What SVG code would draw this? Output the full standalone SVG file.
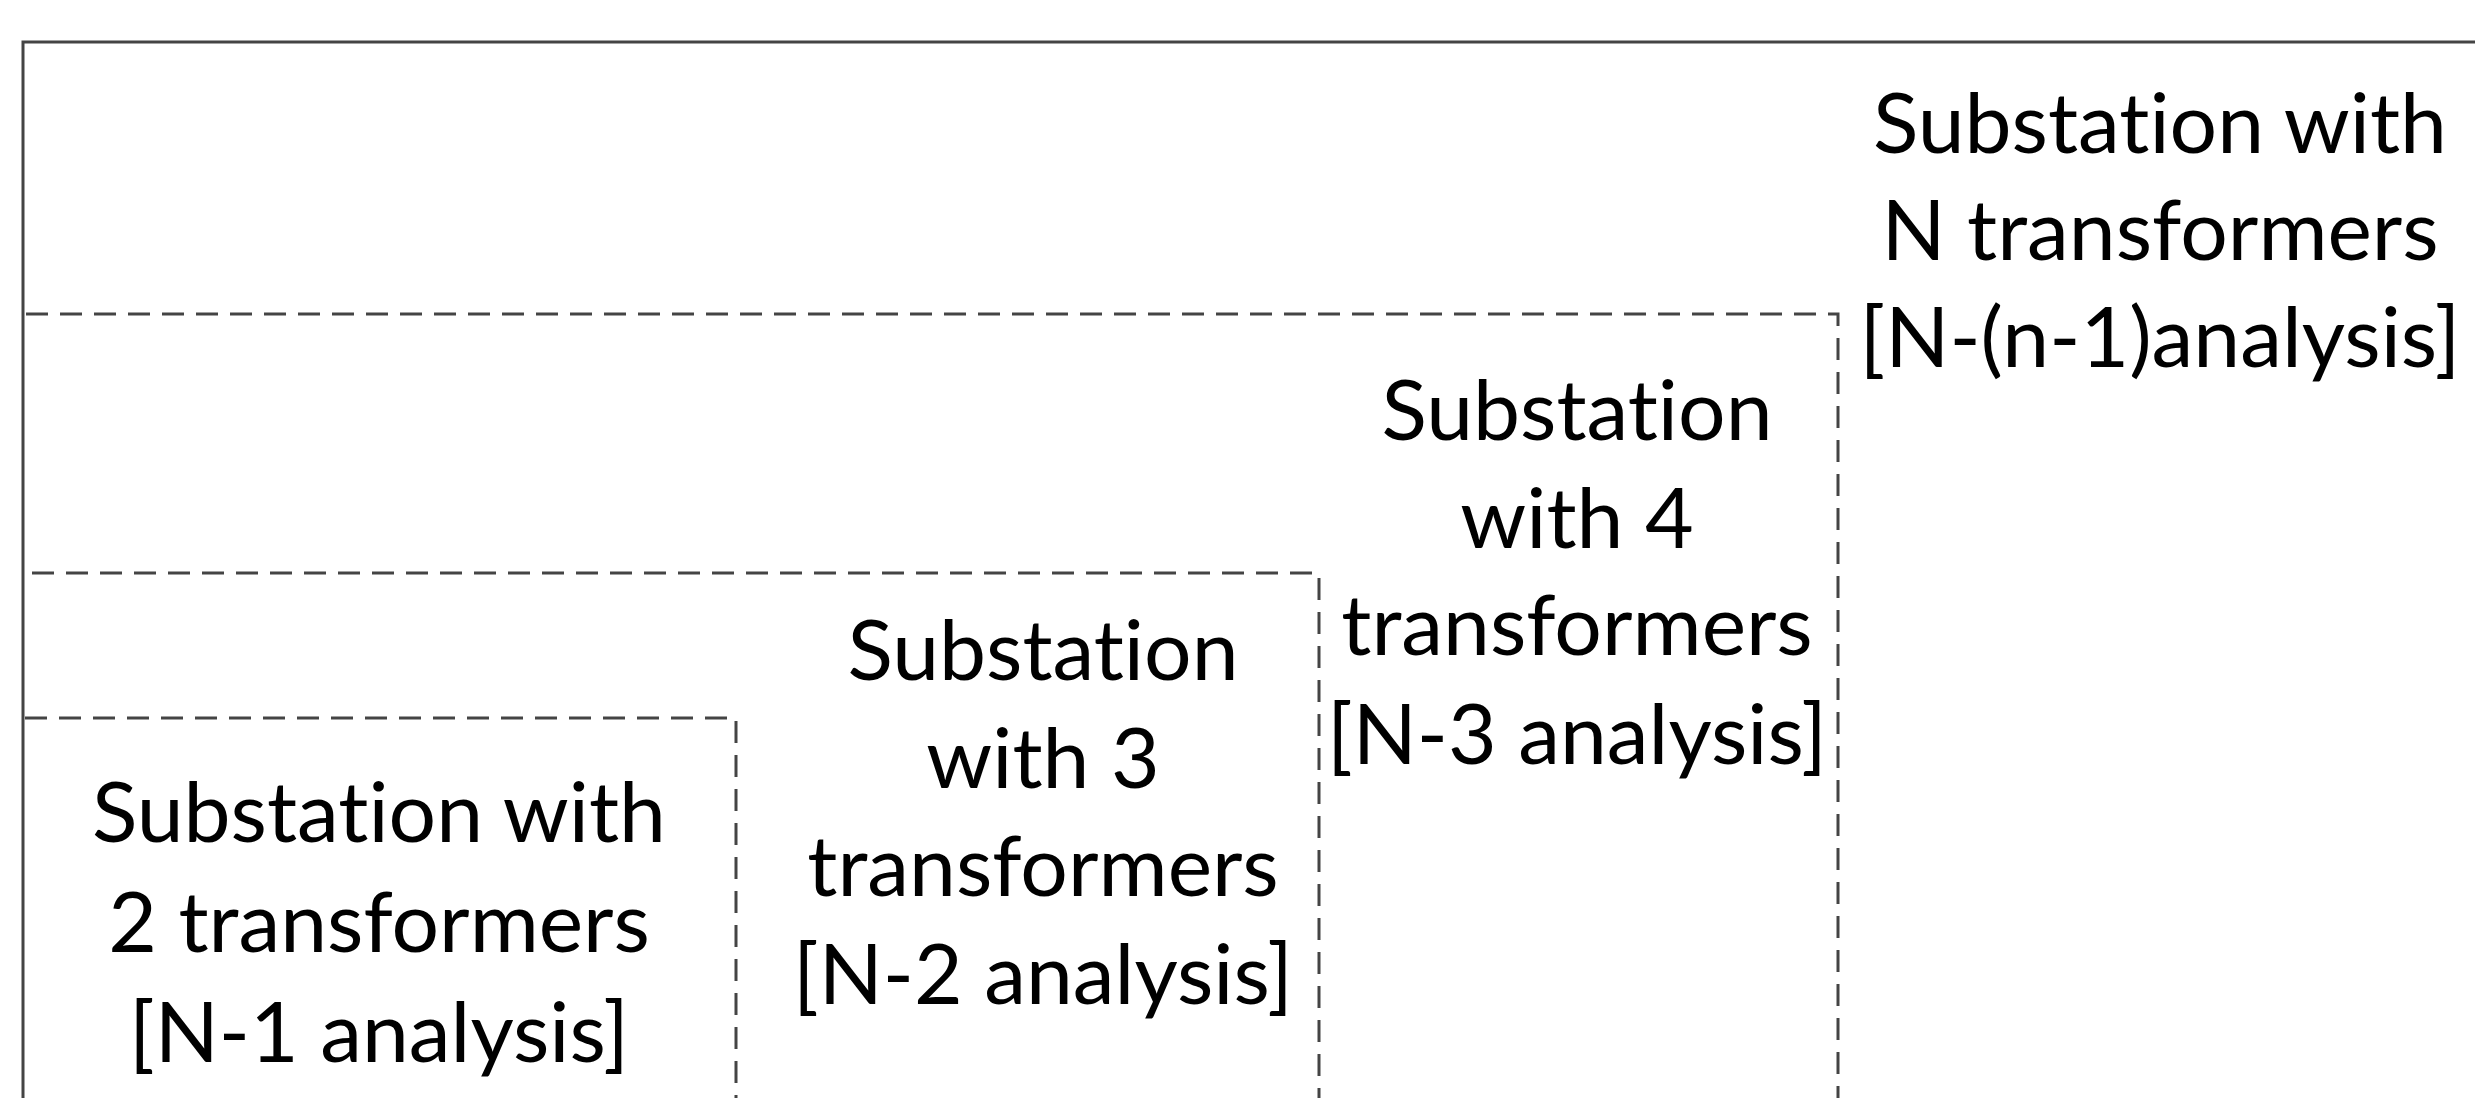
<svg xmlns="http://www.w3.org/2000/svg" width="2475" height="1098" viewBox="0 0 2475 1098">
<style>
.frame{fill:none;stroke:#444;stroke-width:3}
.dash{fill:none;stroke:#444;stroke-width:3;stroke-dasharray:22 12}
text{font-family:Lato,"Open Sans",sans-serif;font-size:84px;fill:#000;text-anchor:middle;font-variant-ligatures:none;font-feature-settings:"liga" 0,"clig" 0}
</style>
<rect width="2475" height="1098" fill="#fff"/>
<g id="connectors">
<path class="frame" d="M23,1100 V42 H2480"/>
<path class="dash" d="M26,314 H1838 V1098"/>
<path class="dash" d="M32,573 H1319 V1098"/>
<path class="dash" d="M25,718 H736 V1098"/>
</g>
<g id="node-n">
<text x="2160" y="153">Substation with</text>
<text x="2160" y="260">N transformers</text>
<text x="2160" y="367">[N-(n-1)analysis]</text>
</g>
<g id="node-4">
<text x="1577" y="440">Substation</text>
<text x="1577" y="548">with 4</text>
<text x="1577" y="655">transformers</text>
<text x="1577" y="764">[N-3 analysis]</text>
</g>
<g id="node-3">
<text x="1043" y="680">Substation</text>
<text x="1043" y="788">with 3</text>
<text x="1043" y="896">transformers</text>
<text x="1043" y="1004">[N-2 analysis]</text>
</g>
<g id="node-2">
<text x="379" y="842">Substation with</text>
<text x="379" y="952">2 transformers</text>
<text x="379" y="1062">[N-1 analysis]</text>
</g>
</svg>
